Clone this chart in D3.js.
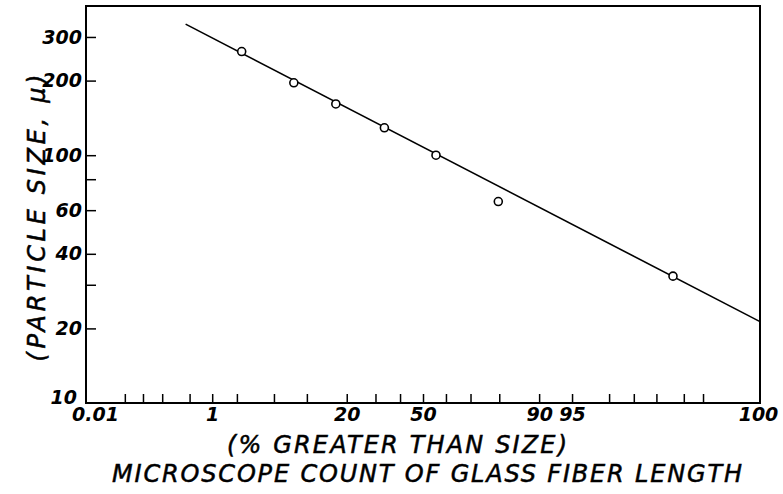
<!DOCTYPE html>
<html>
<head>
<meta charset="utf-8">
<script src="https://cdn.jsdelivr.net/npm/d3@7"></script>
<style>
  body { margin: 0; background: #fff; }
  svg { display: block; }
  .tick text { font-family: 'DejaVu Sans', sans-serif; font-style: italic; font-weight: bold; font-size: 19px; fill: #000; }
  .tick line { stroke: #000; stroke-width: 1.5; }
  .title { font-family: 'DejaVu Sans', sans-serif; font-style: italic; font-size: 24px; fill: #000; stroke: #000; stroke-width: 0.5; }
</style>
</head>
<body>
<div class="wrapper"></div>
<script>
// percent greater than size (probability scale) and particle size in microns
const pctGreater = [2.27, 7.7, 16.8, 33.5, 55.7, 79.7, 99.71]
const sizeMicrons = [262, 196, 161, 129, 100, 65, 32.5]

// fitted line end points
const fitPct = [0.44, 99.99]
const fitSize = [338, 21.3]

const xTickPcts = [0.01, 0.05, 0.1, 0.2, 0.5, 1, 2, 5, 10, 20, 30, 40, 50, 60, 70, 80, 90, 95, 98, 99, 99.5, 99.8, 99.9, 99.99]
const xLabels = { 0.01: '0.01', 1: '1', 20: '20', 50: '50', 90: '90', 95: '95', 99.99: '100' }
const yTicks = [10, 20, 30, 40, 60, 80, 100, 200, 300]
const yLabels = [10, 20, 40, 60, 100, 200, 300]

const width = 783, height = 494
const margin = { top: 6, right: 23, bottom: 91, left: 86 }

// inverse normal cdf (Acklam)
function probit(p) {
  const a = [-39.69683028665376, 220.9460984245205, -275.9285104469687, 138.3577518672690, -30.66479806614716, 2.506628277459239]
  const b = [-54.47609879822406, 161.5858368580409, -155.6989798598866, 66.80131188771972, -13.28068155288572]
  const c = [-0.007784894002430293, -0.3223964580411365, -2.400758277161838, -2.549732539343734, 4.374664141464968, 2.938163982698783]
  const d = [0.007784695709041462, 0.3224671290700398, 2.445134137142996, 3.754408661907416]
  const pl = 0.02425
  let q, r
  if (p < pl) {
    q = Math.sqrt(-2 * Math.log(p))
    return (((((c[0] * q + c[1]) * q + c[2]) * q + c[3]) * q + c[4]) * q + c[5]) / ((((d[0] * q + d[1]) * q + d[2]) * q + d[3]) * q + 1)
  } else if (p <= 1 - pl) {
    q = p - 0.5
    r = q * q
    return (((((a[0] * r + a[1]) * r + a[2]) * r + a[3]) * r + a[4]) * r + a[5]) * q / (((((b[0] * r + b[1]) * r + b[2]) * r + b[3]) * r + b[4]) * r + 1)
  }
  q = Math.sqrt(-2 * Math.log(1 - p))
  return -(((((c[0] * q + c[1]) * q + c[2]) * q + c[3]) * q + c[4]) * q + c[5]) / ((((d[0] * q + d[1]) * q + d[2]) * q + d[3]) * q + 1)
}
const z = pct => probit(pct / 100)

const x = d3.scaleLinear()
  .domain([z(0.01), z(99.99)])
  .range([margin.left, width - margin.right])

const y = d3.scaleLog()
  .domain([10, 400])
  .range([height - margin.bottom, margin.top])

const svg = d3.select('.wrapper')
  .append('svg')
  .attr('width', width)
  .attr('height', height)

// x axis, ticks pointing up into the plot
const zLabels = new Map(Object.entries(xLabels).map(([k, v]) => [z(+k), v]))
svg.append('g')
  .attr('transform', `translate(0, ${height - margin.bottom})`)
  .call(d3.axisBottom(x)
    .tickValues(xTickPcts.map(z))
    .tickSize(-9)
    .tickPadding(5)
    .tickFormat(v => zLabels.get(v) || ''))
  .call(g => g.select('.domain').remove())
  .call(g => g.selectAll('.tick text')
    .attr('dx', v => zLabels.get(v) === '0.01' ? 9 : (zLabels.get(v) === '100' ? -2 : 0)))
  .call(g => g.selectAll('.tick').filter(v => v === z(0.01) || v === z(99.99)).select('line').remove())

// y axis, ticks pointing right into the plot
svg.append('g')
  .attr('transform', `translate(${margin.left}, 0)`)
  .call(d3.axisLeft(y)
    .tickValues(yTicks)
    .tickSize(-10)
    .tickPadding(4)
    .tickFormat(v => yLabels.includes(v) ? v : ''))
  .call(g => g.select('.domain').remove())
  .call(g => g.selectAll('.tick').filter(v => v === 10).select('line').remove())
  .call(g => g.selectAll('.tick').filter(v => v === 10).select('text').attr('dy', '0').attr('x', -9))

// frame
svg.append('rect')
  .attr('x', margin.left)
  .attr('y', margin.top)
  .attr('width', width - margin.left - margin.right)
  .attr('height', height - margin.top - margin.bottom)
  .attr('fill', 'none')
  .attr('stroke', '#000')
  .attr('stroke-width', 2)

// fitted line
svg.append('line')
  .attr('x1', x(z(fitPct[0])))
  .attr('y1', y(fitSize[0]))
  .attr('x2', x(z(fitPct[1])))
  .attr('y2', y(fitSize[1]))
  .attr('stroke', '#000')
  .attr('stroke-width', 1.6)

// data points
svg.selectAll('.pt')
  .data(pctGreater.map((p, i) => ({ p, s: sizeMicrons[i] })))
  .enter().append('circle')
  .attr('class', 'pt')
  .attr('cx', d => x(z(d.p)))
  .attr('cy', d => y(d.s))
  .attr('r', 4)
  .attr('fill', '#fff')
  .attr('stroke', '#000')
  .attr('stroke-width', 1.6)

// titles
svg.append('text')
  .attr('class', 'title')
  .attr('text-anchor', 'middle')
  .attr('transform', 'translate(45, 218) rotate(-90)')
  .attr('textLength', 287)
  .attr('lengthAdjust', 'spacing')
  .text('(PARTICLE SIZE, μ)')

svg.append('text')
  .attr('class', 'title')
  .attr('text-anchor', 'middle')
  .attr('x', 397)
  .attr('y', 453)
  .attr('textLength', 340)
  .attr('lengthAdjust', 'spacing')
  .text('(% GREATER THAN SIZE)')

svg.append('text')
  .attr('class', 'title')
  .attr('text-anchor', 'middle')
  .attr('x', 427)
  .attr('y', 482)
  .attr('textLength', 630)
  .attr('lengthAdjust', 'spacing')
  .text('MICROSCOPE COUNT OF GLASS FIBER LENGTH')
</script>
</body>
</html>
